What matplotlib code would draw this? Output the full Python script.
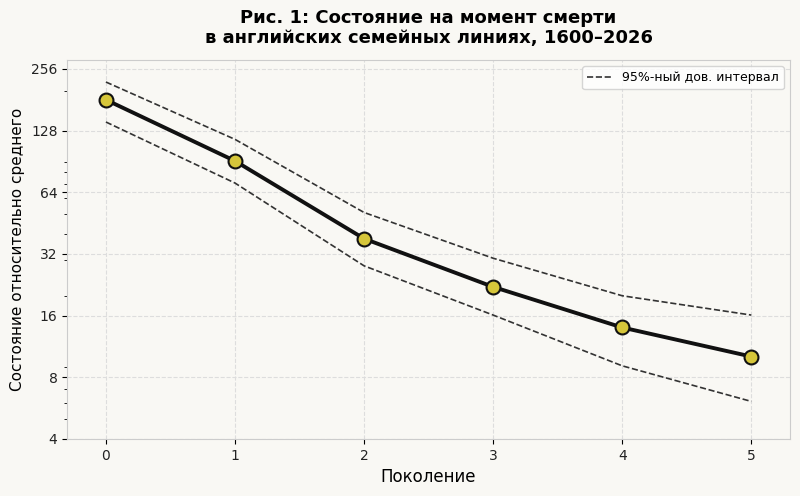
import numpy as np
import matplotlib
matplotlib.use("Agg")
import matplotlib.pyplot as plt
from matplotlib.ticker import FixedLocator, ScalarFormatter, NullFormatter

# Данные
pokolenie = [0, 1, 2, 3, 4, 5]
sostoyanie = [181, 91, 38, 22.1, 14.0, 10.1]
verh = [221, 116, 51, 30.5, 20, 16.1]
niz = [141, 71, 28, 16.1, 9.1, 6.1]
y_ticks = [4, 8, 16, 32, 64, 128, 256]

fon = "#f9f8f4"

fig = plt.figure(figsize=(8, 4.96), dpi=100, facecolor=fon)
ax = fig.add_axes([0.084, 0.115, 0.9035, 0.764], facecolor=fon)

ax.plot(pokolenie, verh, linestyle="--", color="#333333", linewidth=1.2,
        label="95%-ный дов. интервал", zorder=2)
ax.plot(pokolenie, niz, linestyle="--", color="#333333", linewidth=1.2, zorder=2)
ax.plot(pokolenie, sostoyanie, color="#111111", linewidth=2.8, marker="o",
        markersize=10, markerfacecolor="#d6c63a", markeredgecolor="#111111",
        markeredgewidth=1.5, zorder=3)

ax.set_yscale("log")
ax.set_ylim(4, 283)
ax.set_xlim(-0.3, 5.3)
ax.yaxis.set_major_locator(FixedLocator(y_ticks))
ax.yaxis.set_major_formatter(ScalarFormatter())
ax.yaxis.set_minor_formatter(NullFormatter())
ax.set_xticks(pokolenie)

ax.grid(True, which="major", linestyle="--", color="#dddddd", linewidth=0.8)
ax.set_axisbelow(True)
for s in ax.spines.values():
    s.set_color("#cccccc")
ax.tick_params(labelsize=10, labelcolor="#222222")

ax.set_xlabel("Поколение", fontsize=12)
ax.set_ylabel("Состояние относительно среднего", fontsize=11)
ax.set_title("Рис. 1: Состояние на момент смерти\nв английских семейных линиях, 1600–2026",
             fontsize=13, fontweight="bold", pad=12)

leg = ax.legend(loc="upper right", fontsize=9, frameon=True, facecolor="white",
                edgecolor="#cccccc")

fig.savefig("out.png", dpi=100, facecolor=fon)
